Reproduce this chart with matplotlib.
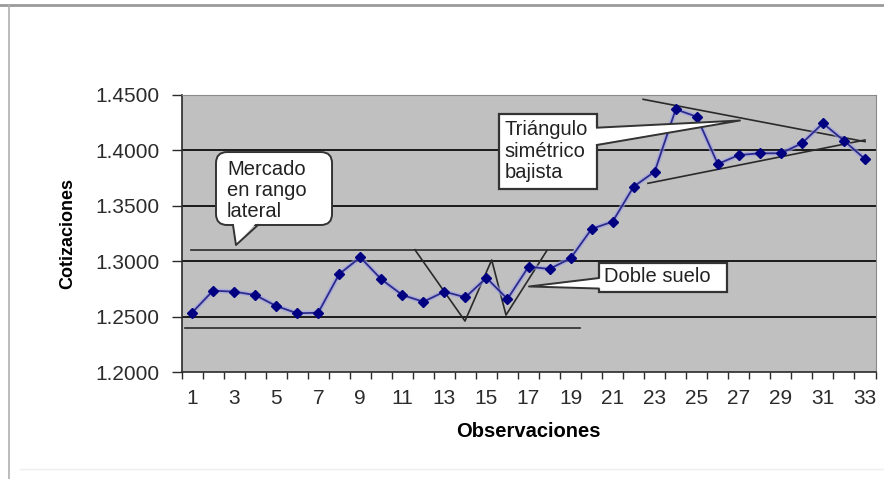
import matplotlib
matplotlib.use("Agg")
import matplotlib.pyplot as plt
from matplotlib.lines import Line2D
from matplotlib.patches import FancyBboxPatch, Rectangle, Polygon
from matplotlib.ticker import FixedLocator, FormatStrFormatter

plt.rcParams["font.family"] = ["Liberation Sans", "DejaVu Sans"]

# --- data ---
observaciones = list(range(1, 34))
cotizaciones = [1.2535, 1.2734, 1.2725, 1.2695, 1.2596, 1.2530, 1.2535, 1.2884,
                1.3035, 1.2837, 1.2695, 1.2634, 1.2725, 1.2674, 1.2850, 1.2659,
                1.2950, 1.2930, 1.3026, 1.3291, 1.3357, 1.3673, 1.3808, 1.4371,
                1.4304, 1.3877, 1.3958, 1.3974, 1.3974, 1.4064, 1.4245, 1.4088,
                1.3922]

y_ticks = [1.20, 1.25, 1.30, 1.35, 1.40, 1.45]
x_tick_labels = list(range(1, 34, 2))

# hand-drawn analysis lines (x in observations, y in price)
resistencia_x = [0.95, 19.1]
resistencia_y = [1.3100, 1.3100]
soporte_x = [0.67, 19.45]
soporte_y = [1.2394, 1.2394]
doble_suelo_x = [11.6, 13.98, 15.25, 15.93, 17.87]
doble_suelo_y = [1.3103, 1.2460, 1.3011, 1.2514, 1.3095]
triangulo_sup_x = [22.45, 33.0]
triangulo_sup_y = [1.4461, 1.4079]
triangulo_inf_x = [22.68, 33.0]
triangulo_inf_y = [1.3703, 1.4094]

W, H = 884, 479
fig = plt.figure(figsize=(W / 100, H / 100), dpi=100)
fig.patch.set_facecolor("white")

# page frame like the original screenshot
fig.add_artist(Line2D([0, 1], [1 - 5 / H] * 2, transform=fig.transFigure,
                      color="#9a9a9a", lw=2))
fig.add_artist(Line2D([8.5 / W] * 2, [0, 1 - 5 / H], transform=fig.transFigure,
                      color="#b0b0b0", lw=1.2))
fig.add_artist(Line2D([20 / W, 1], [1 - 469 / H] * 2, transform=fig.transFigure,
                      color="#eeeeee", lw=1))

ax = fig.add_axes([181.5 / W, 1 - 372 / H, 694 / W, 277 / H])
ax.set_facecolor("#c0c0c0")
ax.set_xlim(0.5, 33.5)
ax.set_ylim(y_ticks[0], y_ticks[-1])

for v in y_ticks[1:-1]:
    ax.axhline(v, color="#1a1a1a", lw=1.4, zorder=1)

# analysis lines
line_kw = dict(color="#2a2a2a", lw=1.2, zorder=3)
ax.plot(resistencia_x, resistencia_y, **line_kw)
ax.plot(soporte_x, soporte_y, **line_kw)
ax.plot(doble_suelo_x, doble_suelo_y, **line_kw)
ax.plot(triangulo_sup_x, triangulo_sup_y, **line_kw)
ax.plot(triangulo_inf_x, triangulo_inf_y, **line_kw)

# price series
ax.plot(observaciones, cotizaciones, color="#a0a0e6", lw=3.5, zorder=4, alpha=0.6)
ax.plot(observaciones, cotizaciones, color="#2b2b8c", lw=1.3, marker="D",
        ms=5.5, mfc="#000080", mec="#000080", zorder=5)

# axes styling
for side in ["top", "right"]:
    ax.spines[side].set_color("#8a8a8a")
for side in ["left", "bottom"]:
    ax.spines[side].set_color("#2a2a2a")
    ax.spines[side].set_linewidth(1.2)

ax.yaxis.set_major_locator(FixedLocator(y_ticks))
ax.yaxis.set_major_formatter(FormatStrFormatter("%.4f"))
ax.tick_params(axis="y", direction="out", length=7, width=1, pad=9,
               labelsize=15, colors="#2a2a2a", labelcolor="#2b2b2b")

ax.set_xticks(x_tick_labels)
ax.set_xticks([i + 0.5 for i in range(0, 34)], minor=True)
ax.tick_params(axis="x", which="major", length=0, pad=12, labelsize=15,
               labelcolor="#2b2b2b")
ax.tick_params(axis="x", which="minor", direction="out", length=5, width=1,
               color="#2a2a2a")

ax.set_xlabel("Observaciones", fontsize=14.5, fontweight="bold")
ax.xaxis.set_label_coords(0.5, -0.18)
ax.set_ylabel("Cotizaciones", fontsize=13, fontweight="bold")
ax.yaxis.set_label_coords(-0.152, 0.5)

# --- callouts (axes fraction coordinates) ---
asp = 694 / 277
txt_kw = dict(transform=ax.transAxes, fontsize=14.5, color="#222222",
              linespacing=1.15, zorder=7, clip_on=False)

# "Mercado en rango lateral": rounded box with tail
box = FancyBboxPatch((0.0497, 0.5307), 0.1672, 0.2633,
                     boxstyle="round,pad=0,rounding_size=0.016",
                     mutation_aspect=asp, transform=ax.transAxes,
                     fc="white", ec="#333333", lw=1.4, zorder=6, clip_on=False)
ax.add_patch(box)
tail = [(0.0742, 0.5307), (0.0785, 0.4585), (0.1102, 0.5307)]
ax.add_patch(Polygon([(0.0742, 0.545), (0.0785, 0.4585), (0.1102, 0.545)],
                     closed=True, transform=ax.transAxes, fc="white", ec="none",
                     zorder=6.5, clip_on=False))
ax.plot([p[0] for p in tail], [p[1] for p in tail], transform=ax.transAxes,
        color="#333333", lw=1.4, zorder=6.6, clip_on=False)
ax.text(0.0656, 0.655, "Mercado\nen rango\nlateral", ha="left", va="center",
        **txt_kw)

# "Triángulo simétrico bajista": box with wedge to the right
ax.add_patch(Rectangle((0.4575, 0.6596), 0.1412, 0.2718, transform=ax.transAxes,
                       fc="white", ec="#333333", lw=1.6, zorder=6, clip_on=False))
tail = [(0.5987, 0.882), (0.8047, 0.9079), (0.5987, 0.8195)]
ax.add_patch(Polygon([(0.590, 0.882), (0.8047, 0.9079), (0.590, 0.8195)],
                     closed=True, transform=ax.transAxes, fc="white", ec="none",
                     zorder=6.5, clip_on=False))
ax.plot([p[0] for p in tail], [p[1] for p in tail], transform=ax.transAxes,
        color="#333333", lw=1.4, zorder=6.6, clip_on=False)
ax.text(0.466, 0.797, "Triángulo\nsimétrico\nbajista", ha="left", va="center",
        **txt_kw)

# "Doble suelo": box with wedge to the left
ax.add_patch(Rectangle((0.6009, 0.29), 0.1847, 0.1024, transform=ax.transAxes,
                       fc="white", ec="#333333", lw=1.6, zorder=6, clip_on=False))
tail = [(0.6009, 0.339), (0.5007, 0.3087), (0.6009, 0.3014)]
ax.add_patch(Polygon([(0.608, 0.339), (0.5007, 0.3087), (0.608, 0.3014)],
                     closed=True, transform=ax.transAxes, fc="white", ec="none",
                     zorder=6.5, clip_on=False))
ax.plot([p[0] for p in tail], [p[1] for p in tail], transform=ax.transAxes,
        color="#333333", lw=1.4, zorder=6.6, clip_on=False)
ax.text(0.609, 0.345, "Doble suelo", ha="left", va="center", **txt_kw)

fig.savefig("out.png", dpi=100)
